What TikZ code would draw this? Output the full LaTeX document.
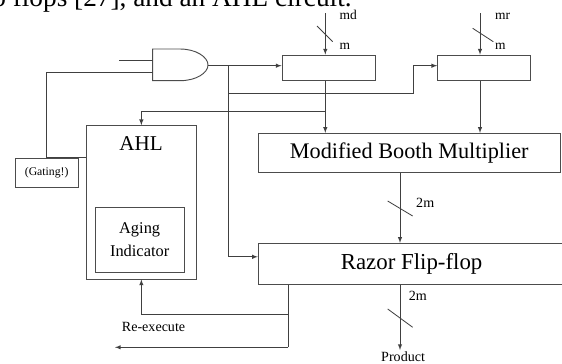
\documentclass[tikz,border=0pt]{standalone}
\usepackage{fontspec}
\setmainfont{Liberation Serif}
\usetikzlibrary{arrows,calc}

\begin{document}
\begin{tikzpicture}[x=0.03cm,y=-0.03cm,>=latex,
  wire/.style={draw=black!75,line width=0.7pt},
  box/.style={draw=black!70,line width=0.8pt,inner sep=0pt},
  lbl/.style={anchor=base west,inner sep=0pt,font=\fontsize{12}{13}\selectfont}]
\useasboundingbox (0,0) rectangle (562,363);
\clip (0,0) rectangle (562,363);

% page text above the figure
\node[anchor=base west,inner sep=0pt,font=\fontsize{23.3}{24}\selectfont] (cap) at (-7.9,6.5) {p flops [27], and an AHL circuit.};

% blocks
\node[box,minimum width=2.8cm,minimum height=0.77cm] (regmd) at (328.7,67.9) {};
\node[box,minimum width=2.78cm,minimum height=0.77cm] (regmr) at (484,67.9) {};
\node[box,minimum width=9.07cm,minimum height=1.18cm,font=\fontsize{19}{20}\selectfont] (mbm) at (409.2,153) {Modified Booth Multiplier};
\node[box,minimum width=9.2cm,minimum height=1.23cm,font=\fontsize{19.5}{20}\selectfont] (razor) at (411.6,263.8) {Razor Flip-flop};
\node[box,minimum width=3.32cm,minimum height=4.6cm] (ahl) at (141.35,202.35) {};
\node[font=\fontsize{18}{18}\selectfont] (ahltxt) at (141,143.3) {AHL};
\node[box,minimum width=2.68cm,minimum height=1.95cm,align=center,font=\fontsize{14}{20}\selectfont] (aging) at (139.65,239.8) {Aging\\Indicator};
\node[box,minimum width=1.88cm,minimum height=0.87cm,font=\fontsize{10}{10}\selectfont] (gating) at (46.65,172.8) {(Gating!)};

% and gate
\draw[box] (152.7,49) -- (180,49) .. controls (196,49) and (208,57) .. (208,65)
  .. controls (208,73) and (196,80.7) .. (180,80.7) -- (152.7,80.7) -- cycle;

\coordinate (src) at (119,60);
\coordinate (gin1) at (152.7,60);
\coordinate (gin2) at (152.7,72.7);
\coordinate (gout) at (208,65.7);
\coordinate (j1) at (228.3,65.7);
\coordinate (j2) at (228.3,93.3);
\coordinate (bend) at (413.3,93.3);
\coordinate (md) at (325.3,13.3);
\coordinate (mr) at (480,13.3);
\coordinate (j3) at (325.3,111);
\coordinate (bus) at (400,172.7);
\coordinate (fb) at (288.3,314);
\coordinate (redo) at (115,347.3);

% labels
\node[lbl,font=\fontsize{11.5}{12}\selectfont] (mdlbl) at (339.3,19.3) {md};
\node[lbl,font=\fontsize{11.5}{12}\selectfont] (mdw) at (339.3,49.3) {m};
\node[lbl,font=\fontsize{11.5}{12}\selectfont] (mrlbl) at (495,19.3) {mr};
\node[lbl,font=\fontsize{11.5}{12}\selectfont] (mrw) at (495,49.3) {m};
\node[lbl] (mbmw) at (416,207.3) {2m};
\node[lbl] (rzw) at (408.7,300.7) {2m};
\node[lbl] (prod) at (381,361) {Product};
\node[lbl] (redolbl) at (121.7,331.7) {Re-execute};

% connections
\draw[wire] (src) -- (gin1);
\draw[wire] (gin2) -| (gating.north) -- (gating.north -| ahl.west);
\draw[wire,->] (gout) -- (gout -| regmd.west);
\draw[wire,->] (j1) |- ($(razor.west)+(0,-7)$);
\draw[wire,->] (j2) -| (bend |- gout) -- (gout -| regmr.west);
\draw[wire,->] (md) -- (md |- regmd.north);
\draw[wire,->] (mr) -- (mr |- regmr.north);
\draw[wire,->] (md |- regmd.south) -- (md |- mbm.north);
\draw[wire,->] (j3) -| (ahl.north);
\draw[wire,->] (mr |- regmr.south) -- (mr |- mbm.north);
\draw[wire,->] (bus |- mbm.south) -- (bus |- razor.north);
\draw[wire,->] (bus |- razor.south) -- (bus |- 0,350);
\draw[wire] (fb |- razor.south) -- (fb |- redo);
\draw[wire,->] (fb |- redo) -- (redo);
\draw[wire,->] (fb) -| (ahl.south);

% bus width ticks
\draw[wire] (317,26) -- (332.7,41.7);
\draw[wire] (472.7,28.3) -- (493.3,41.7);
\draw[wire] (387.7,201) -- (412.7,216);
\draw[wire] (387.7,309) -- (412.7,327.3);
\end{tikzpicture}
\end{document}
